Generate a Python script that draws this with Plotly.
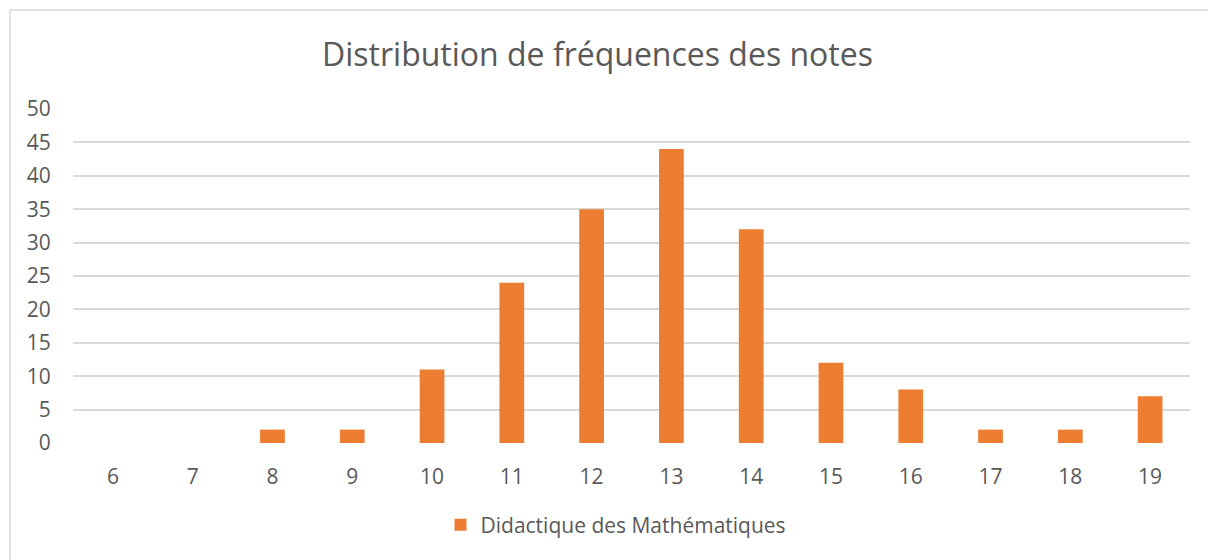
import plotly.graph_objects as go

categories = ["6", "7", "8", "9", "10", "11", "12", "13", "14", "15", "16", "17", "18", "19"]
values = [0, 0, 2, 2, 11, 24, 35, 44, 32, 12, 8, 2, 2, 7]
series_name = "Didactique des Mathématiques"
title_text = "Distribution de fréquences des notes"
y_ticks = [0, 5, 10, 15, 20, 25, 30, 35, 40, 45, 50]

W, H = 1216, 560
OFF = 8  # page body margin
L, R, T, B = 73 - OFF, 34, 109 - OFF, 125
pw, ph = W - L - R, H - T - B

def px_x(p):
    return (p - OFF - L) / pw

def px_y(p):
    return (H - B - (p - OFF)) / ph

font_fam = "Open Sans, Calibri, sans-serif"
grey = "#595959"

fig = go.Figure()
fig.add_trace(go.Bar(
    x=categories, y=values, name=series_name,
    marker=dict(color="#ED7D31", line=dict(width=0)),
))

fig.update_layout(
    width=W, height=H,
    margin=dict(l=L, r=R, t=T, b=B),
    paper_bgcolor="white", plot_bgcolor="white",
    bargap=0.69,
    showlegend=True,
    title=dict(text=title_text, x=px_x(614.5), xanchor="center", y=1 - (55 - OFF) / H, yanchor="middle",
               font=dict(family=font_fam, size=32, color=grey)),
    legend=dict(orientation="h", x=px_x(616), xanchor="center", y=px_y(525), yanchor="middle",
                font=dict(family=font_fam, size=21, color=grey), itemwidth=30),
    xaxis=dict(type="category", showgrid=False, zeroline=False, showline=False,
               ticks="outside", ticklen=15, tickcolor="rgba(0,0,0,0)",
               tickfont=dict(family=font_fam, size=21, color=grey)),
    yaxis=dict(range=[0, 50], tickvals=y_ticks, showgrid=True, gridcolor="#d9d9d9", gridwidth=1.5,
               zeroline=False, showline=False,
               ticks="outside", ticklen=17, tickcolor="rgba(0,0,0,0)",
               tickfont=dict(family=font_fam, size=21, color=grey)),
    shapes=[dict(type="rect", xref="paper", yref="paper",
                 x0=px_x(10), x1=px_x(1230), y0=px_y(575), y1=px_y(10),
                 line=dict(color="#d9d9d9", width=1.5), fillcolor="rgba(0,0,0,0)", layer="below")],
)

fig.write_html("out.html")
